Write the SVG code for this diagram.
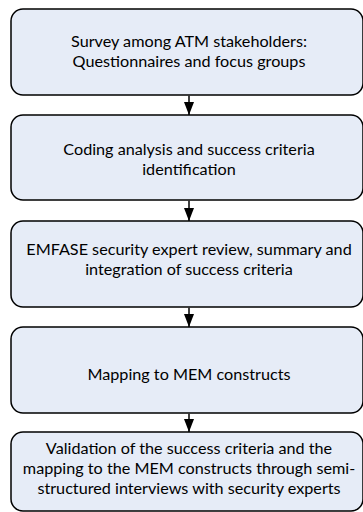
<svg xmlns="http://www.w3.org/2000/svg" width="363" height="512" viewBox="0 0 363 512">
<defs>
<style>
.box{fill:#E6ECF7;stroke:#000;stroke-width:1.5}
.t{font-family:Lato,"Open Sans","Liberation Sans",sans-serif;font-size:16.2px;fill:#000;text-anchor:middle}
.c{stroke:#000;stroke-width:1.5;fill:none}
</style>
<marker id="ah" viewBox="0 0 13 10" refX="13" refY="5" markerWidth="13" markerHeight="10" markerUnits="userSpaceOnUse" orient="auto">
<path d="M0,0 L13,5 L0,10 z" fill="#000"/>
</marker>
</defs>
<g id="connectors">
<line class="c" x1="189" y1="95.75" x2="189" y2="115" marker-end="url(#ah)"/>
<line class="c" x1="189" y1="200.75" x2="189" y2="221" marker-end="url(#ah)"/>
<line class="c" x1="189" y1="307.75" x2="189" y2="327" marker-end="url(#ah)"/>
<line class="c" x1="189" y1="413.75" x2="189" y2="432" marker-end="url(#ah)"/>
</g>
<g id="n1">
<rect class="box" x="11" y="9" width="352" height="86" rx="12"/>
<text class="t" x="189" y="47">Survey among ATM stakeholders:</text>
<text class="t" x="189" y="67">Questionnaires and focus groups</text>
</g>
<g id="n2">
<rect class="box" x="11" y="115" width="352" height="85" rx="12"/>
<text class="t" x="189" y="155">Coding analysis and success criteria</text>
<text class="t" x="189" y="175">identification</text>
</g>
<g id="n3">
<rect class="box" x="11" y="221" width="352" height="86" rx="12"/>
<text class="t" x="189" y="255">EMFASE security expert review, summary and</text>
<text class="t" x="189" y="275">integration of success criteria</text>
</g>
<g id="n4">
<rect class="box" x="11" y="327" width="352" height="86" rx="12"/>
<text class="t" x="189" y="380">Mapping to MEM constructs</text>
</g>
<g id="n5">
<rect class="box" x="11" y="432" width="352" height="79" rx="12"/>
<text class="t" x="189" y="454">Validation of the success criteria and the</text>
<text class="t" x="189" y="474">mapping to the MEM constructs through semi-</text>
<text class="t" x="189" y="493.5">structured interviews with security experts</text>
</g>
</svg>
